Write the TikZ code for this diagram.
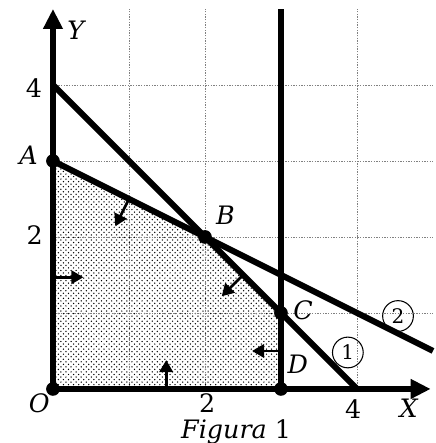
\documentclass[tikz,border=0pt]{standalone}
\usepackage{fontspec}
\setmainfont{DejaVu Serif}
\usetikzlibrary{patterns,arrows.meta}
\pgfdeclarepatternformonly{mydots}{\pgfpoint{-1pt}{-1pt}}{\pgfpoint{2.8pt}{2.8pt}}{\pgfpoint{3.8pt}{3.8pt}}{%
  \pgfpathcircle{\pgfpoint{0pt}{0pt}}{.55pt}%
  \pgfpathcircle{\pgfpoint{1.9pt}{1.9pt}}{.55pt}%
  \pgfusepath{fill}}
\tikzset{
  gridline/.style={gray, line width=0.6pt, dash pattern=on 1pt off 1pt},
  thickline/.style={black, line width=4.5pt},
  axisline/.style={black, line width=4.5pt, -{Triangle[length=15pt,width=14pt]}},
  normarrow/.style={black, line width=2pt, -{Triangle[length=9pt,width=10pt]}},
  ptdot/.style={black},
  lbl/.style={font=\fontsize{19}{22}\selectfont, inner sep=0pt},
  ilbl/.style={font=\fontsize{19}{22}\selectfont\itshape, inner sep=0pt},
  circnum/.style={draw, circle, line width=0.8pt, minimum size=23pt, inner sep=0pt, font=\fontsize{15}{17}\selectfont}
}
\begin{document}
\begin{tikzpicture}[x=2cm,y=2cm]
\useasboundingbox (-0.697,-0.711) rectangle (5.039,5.118);
% key points
\coordinate (O) at (0,0);
\coordinate (A) at (0,3);
\coordinate (B) at (2,2);
\coordinate (C) at (3,1);
\coordinate (D) at (3,0);
\coordinate (Y4) at (0,4);
\coordinate (X4) at (4,0);
\coordinate (E2) at (5,0.5);
\coordinate (T3) at (3,5);
\coordinate (Xend) at (4.97,0);
\coordinate (Yend) at (0,5);
% feasible region
\fill[pattern=mydots, pattern color=black] (O) -- (A) -- (B) -- (C) -- (D) -- cycle;
% grid
\foreach \y in {1,2,3,4} \draw[gridline] (0,\y) -- (5,\y);
\foreach \x in {1,2,4} \draw[gridline] (\x,0) -- (\x,5);
% constraint lines
\draw[thickline] (Y4) -- (X4);
\draw[thickline] (A) -- (E2);
\draw[thickline] (D) -- (T3);
% axes
\draw[axisline] (O) -- (Xend);
\draw[axisline] (O) -- (Yend);
% normal arrows
\coordinate (n1s) at (0,1.47); \coordinate (n1e) at (0.40,1.47);
\coordinate (n2s) at (1.49,0); \coordinate (n2e) at (1.49,0.38);
\coordinate (n3s) at (3,0.5); \coordinate (n3e) at (2.62,0.5);
\coordinate (n4s) at (2.5,1.5); \coordinate (n4e) at (2.22,1.22);
\coordinate (n5s) at (1,2.5); \coordinate (n5e) at (0.82,2.14);
\draw[normarrow] (n1s) -- (n1e);
\draw[normarrow] (n2s) -- (n2e);
\draw[normarrow] (n3s) -- (n3e);
\draw[normarrow] (n4s) -- (n4e);
\draw[normarrow] (n5s) -- (n5e);
% points
\foreach \p in {O,A,B,C,D} \fill[ptdot] (\p) circle (0.09);
% labels
\node[ilbl] (lY) at (0.30,4.72) {Y};
\node[ilbl] (lX) at (4.68,-0.26) {X};
\node[ilbl] (lO) at (-0.18,-0.19) {O};
\node[ilbl] (lA) at (-0.32,3.08) {A};
\node[ilbl] (lB) at (2.27,2.28) {B};
\node[ilbl] (lC) at (3.29,1.04) {C};
\node[ilbl] (lD) at (3.22,0.32) {D};
\node[lbl] (ly4) at (-0.25,3.96) {4};
\node[lbl] (ly2) at (-0.24,2.03) {2};
\node[lbl] (lx2) at (2.03,-0.19) {2};
\node[lbl] (lx4) at (3.95,-0.26) {4};
\node[lbl] (fig) at (2.41,-0.56) {\textit{Figura} 1};
\node[circnum] (c1) at (3.88,0.48) {1};
\node[circnum] (c2) at (4.54,0.96) {2};
\end{tikzpicture}
\end{document}
